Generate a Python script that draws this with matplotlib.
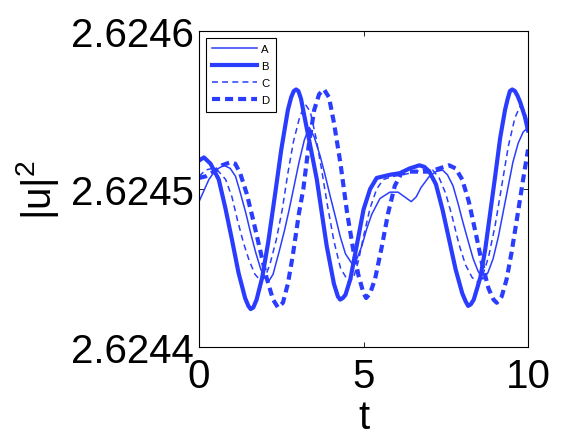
import matplotlib
matplotlib.use("Agg")
import matplotlib.pyplot as plt

plt.rcParams['font.family'] = ['Liberation Sans', 'DejaVu Sans']
plt.rcParams['mathtext.default'] = 'regular'
plt.rcParams['lines.scale_dashes'] = False

# ---- data ----
t_A = [0.0, 0.15, 0.3, 0.5, 0.76, 0.95, 1.11, 1.25, 1.42, 1.57, 1.72, 1.88, 2.03, 2.13, 2.25, 2.43, 2.6, 2.74,
       2.9, 3.04, 3.2, 3.35, 3.5, 3.68, 3.83, 3.98, 4.15, 4.29, 4.45, 4.64, 4.8, 4.95, 5.1, 5.25, 5.5, 5.8,
       6.05, 6.25, 6.45, 6.6, 6.75, 7.0, 7.2, 7.4, 7.55, 7.72, 7.87, 8.02, 8.18, 8.33, 8.48, 8.63, 8.78,
       8.94, 9.1, 9.24, 9.4, 9.54, 9.7, 9.85, 10.0]
u_A = [2.624492, 2.624499, 2.624506, 2.624512, 2.624515, 2.624513, 2.624508, 2.624498, 2.624485, 2.624472,
       2.624460, 2.624449, 2.624443, 2.624442, 2.624446, 2.624460, 2.624474, 2.624487, 2.624503, 2.624517,
       2.624531, 2.624539, 2.624533, 2.624521, 2.624509, 2.624496, 2.624482, 2.624470, 2.624459, 2.624453,
       2.624456, 2.624464, 2.624475, 2.624484, 2.624494, 2.624498, 2.624498, 2.624495, 2.624492, 2.624495,
       2.624501, 2.624508, 2.624511, 2.624512, 2.624509, 2.624502, 2.624491, 2.624479, 2.624467, 2.624456,
       2.624448, 2.624443, 2.624447, 2.624456, 2.624470, 2.624485, 2.624502, 2.624517, 2.624529, 2.624536,
       2.624539]

t_B = [0.0, 0.15, 0.35, 0.6, 0.8, 1.0, 1.2, 1.4, 1.5, 1.57, 1.65, 1.75, 1.92, 2.1, 2.3, 2.5, 2.7, 2.8, 2.88,
       2.95, 3.02, 3.1, 3.25, 3.45, 3.58, 3.73, 3.88, 4.1, 4.22, 4.29, 4.37, 4.45, 4.6, 4.8, 5.0, 5.2, 5.4,
       5.6, 5.8, 6.1, 6.4, 6.7, 6.85, 7.0, 7.2, 7.4, 7.6, 7.8, 8.0, 8.1, 8.18, 8.26, 8.35, 8.55, 8.7, 8.85,
       9.0, 9.15, 9.3, 9.38, 9.45, 9.52, 9.6, 9.68, 9.76, 9.9, 10.0]
u_B = [2.624518, 2.624520, 2.624516, 2.624506, 2.624488, 2.624468, 2.624447, 2.624431, 2.624426, 2.624424,
       2.624425, 2.624430, 2.624444, 2.624466, 2.624495, 2.624525, 2.624550, 2.624558, 2.624562, 2.624563,
       2.624562, 2.624557, 2.624541, 2.624520, 2.624506, 2.624485, 2.624464, 2.624440, 2.624432, 2.624430,
       2.624431, 2.624433, 2.624443, 2.624465, 2.624487, 2.624500, 2.624507, 2.624508, 2.624509, 2.624510,
       2.624513, 2.624515, 2.624514, 2.624511, 2.624503, 2.624487, 2.624468, 2.624449, 2.624434, 2.624429,
       2.624426, 2.624427, 2.624430, 2.624444, 2.624462, 2.624485, 2.624508, 2.624532, 2.624550, 2.624557,
       2.624562, 2.624563, 2.624562, 2.624559, 2.624555, 2.624546, 2.624537]

t_C = [0.0, 0.2, 0.4, 0.6, 0.81, 1.0, 1.16, 1.35, 1.52, 1.7, 1.87, 2.0, 2.15, 2.35, 2.53, 2.7, 2.87, 3.04,
       3.18, 3.25, 3.38, 3.55, 3.72, 3.9, 4.1, 4.3, 4.55, 4.7, 4.85, 5.0, 5.2, 5.4, 5.6, 5.9, 6.2, 6.6, 6.9,
       7.1, 7.3, 7.5, 7.7, 7.9, 8.1, 8.3, 8.47, 8.6, 8.8, 9.0, 9.2, 9.4, 9.6, 9.75, 9.88, 10.0]
u_C = [2.624508, 2.624512, 2.624513, 2.624511, 2.624506, 2.624495, 2.624481, 2.624466, 2.624455, 2.624446,
       2.624442, 2.624444, 2.624452, 2.624468, 2.624487, 2.624510, 2.624530, 2.624544, 2.624552, 2.624553,
       2.624549, 2.624533, 2.624513, 2.624490, 2.624467, 2.624450, 2.624441, 2.624444, 2.624455, 2.624470,
       2.624488, 2.624500, 2.624506, 2.624508, 2.624509, 2.624511, 2.624513, 2.624512, 2.624507, 2.624497,
       2.624482, 2.624465, 2.624452, 2.624444, 2.624441, 2.624444, 2.624457, 2.624477, 2.624502, 2.624527,
       2.624545, 2.624552, 2.624550, 2.624542]

t_D = [0.0, 0.2, 0.45, 0.7, 0.96, 1.1, 1.25, 1.45, 1.65, 1.85, 2.05, 2.25, 2.4, 2.55, 2.7, 2.85, 3.04, 3.17,
       3.33, 3.5, 3.65, 3.8, 3.95, 4.1, 4.3, 4.5, 4.7, 4.85, 5.0, 5.08, 5.2, 5.35, 5.55, 5.75, 5.95, 6.15,
       6.4, 6.7, 7.0, 7.3, 7.6, 7.8, 8.0, 8.2, 8.4, 8.6, 8.8, 8.95, 9.05, 9.2, 9.35, 9.5, 9.7, 9.85, 10.0]
u_D = [2.624507, 2.624508, 2.624511, 2.624515, 2.624517, 2.624516, 2.624510, 2.624497, 2.624480, 2.624462,
       2.624444, 2.624430, 2.624425, 2.624428, 2.624440, 2.624458, 2.624485, 2.624500, 2.624527, 2.624550,
       2.624560, 2.624563, 2.624558, 2.624542, 2.624516, 2.624485, 2.624460, 2.624445, 2.624434, 2.624431,
       2.624434, 2.624443, 2.624463, 2.624485, 2.624502, 2.624510, 2.624511, 2.624511, 2.624511, 2.624513,
       2.624515, 2.624513, 2.624506, 2.624492, 2.624473, 2.624453, 2.624437, 2.624430, 2.624428, 2.624432,
       2.624443, 2.624460, 2.624486, 2.624506, 2.624525]

labels = ['A', 'B', 'C', 'D']
x_ticks = [0, 5, 10]
y_ticks = [2.6244, 2.6245, 2.6246]
y_ticklabels = ['2.6244', '2.6245', '2.6246']

color = '#2a3dff'

fig = plt.figure(figsize=(5.84, 4.39), dpi=100)
ax = fig.add_axes([0.3408, 0.2073, 0.5634, 0.7198])

ax.plot(t_A, u_A, color=color, lw=1.1, label=labels[0])
ax.plot(t_B, u_B, color=color, lw=3.0, label=labels[1], solid_joinstyle='round')
ax.plot(t_C, u_C, color=color, lw=1.1, ls=(0, (4.3, 3.0)), label=labels[2])
ax.plot(t_D, u_D, color=color, lw=3.0, ls=(0, (5.8, 3.6)), label=labels[3])

ax.set_xlim(0, 10)
ax.set_ylim(2.6244, 2.6246)
ax.set_xticks(x_ticks)
ax.set_xticklabels([str(v) for v in x_ticks])
ax.set_yticks(y_ticks)
ax.set_yticklabels(y_ticklabels)
ax.tick_params(direction='in', length=3.5, width=0.6, labelsize=29, top=True, right=True, pad=4)
ax.tick_params(axis='x', pad=7)
for s in ax.spines.values():
    s.set_linewidth(0.8)

ax.set_xlabel('t', fontsize=29)
ax.set_ylabel('$|u|^2$', fontsize=29)
ax.xaxis.set_label_coords(0.5, -0.16)
ax.yaxis.set_label_coords(-0.42, 0.5)

leg = ax.legend(loc='upper left', fontsize=8.2, handlelength=3.9, labelspacing=0.62,
                borderaxespad=0.6, fancybox=False, framealpha=1, edgecolor='black',
                handletextpad=0.4, borderpad=0.55)
leg.get_frame().set_linewidth(0.8)

fig.savefig('out.png', dpi=100)
